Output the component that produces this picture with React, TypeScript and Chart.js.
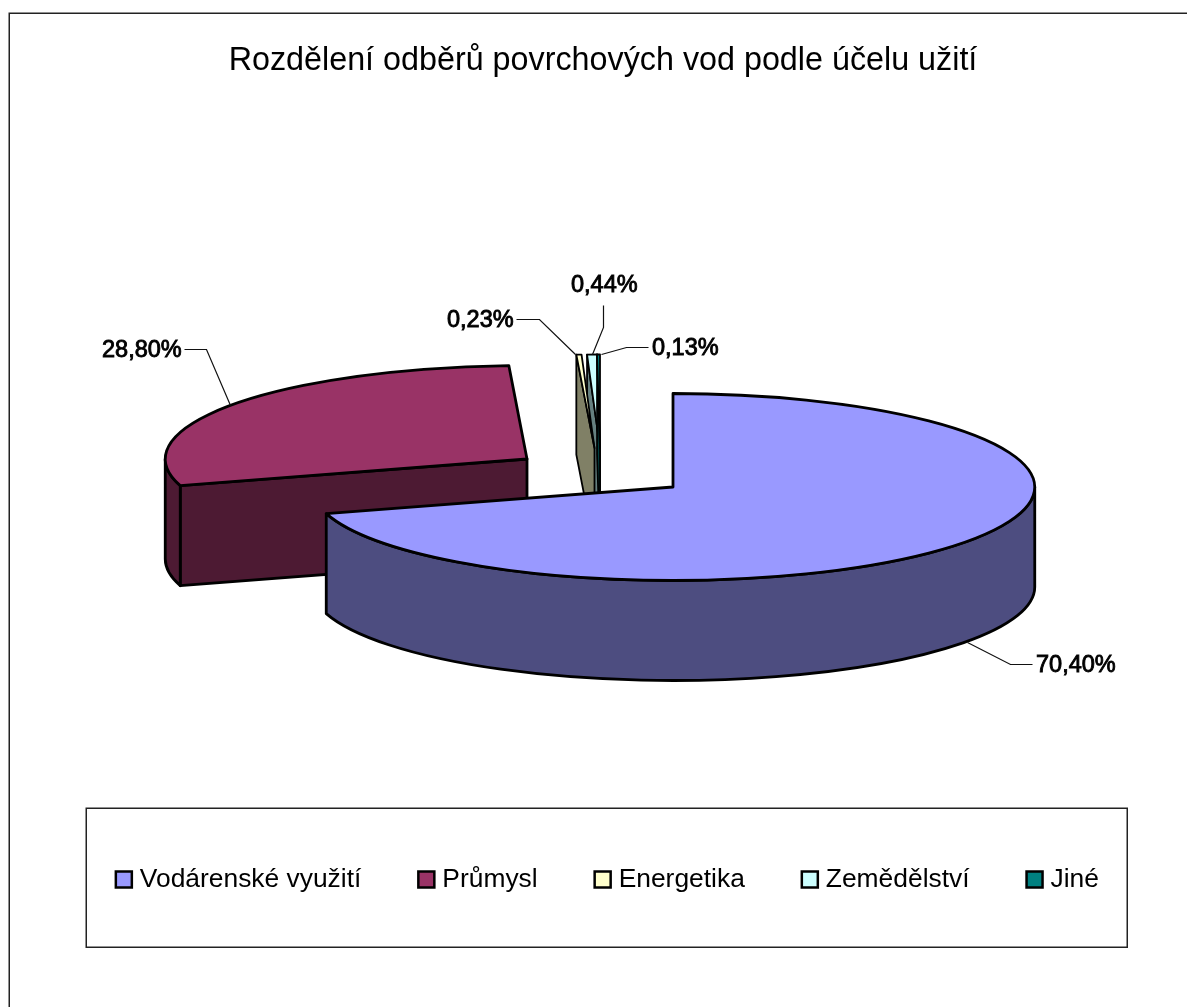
import React, { useEffect, useRef } from "react";
import { Chart, registerables } from "chart.js";

Chart.register(...registerables);

const chartTitle = "Rozdělení odběrů povrchových vod podle účelu užití";
const categories = ["Vodárenské využití", "Průmysl", "Energetika", "Zemědělství", "Jiné"];
const shares = [70.4, 28.8, 0.23, 0.44, 0.13];
const sliceColors = ["#9999FF", "#993366", "#FFFFCC", "#CCFFFF", "#008080"];

// Scene set-up (projection, explosion, label placement), separate from the data
const FONT = "'Liberation Sans', Arial, sans-serif";
const SQUASH = 0.2585;
const DEPTH = 100;
const PIE_BOX = { left: 310, right: 1036, top: 124, bottom: 850 };
const explode = [
  [0, 0],
  [-146, -28],
  [-78.5, -39],
  [-73, -39],
  [-73, -39],
];
const paintOrder = [1, 3, 4, 2, 0];
const strokeWidths = [2.8, 2.8, 1.8, 1.8, 1.8];
const leaders = [
  { text: [1036, 666], line: [[1032, 664], [1010, 664], [967, 642]] },
  { text: [102, 351], line: [[184, 349], [206, 349], [230, 405]] },
  { text: [447, 321], line: [[516, 319], [539, 319], [575, 354]] },
  { text: [571, 286], line: [[603, 305], [603, 327], [592, 354]] },
  { text: [652, 349], line: [[648, 347], [626, 347], [601, 354]] },
];

const shade = (hex: string) => {
  const n = parseInt(hex.slice(1), 16);
  const c = [(n >> 16) & 255, (n >> 8) & 255, n & 255].map((v) => Math.round(v / 2));
  return `rgb(${c[0]},${c[1]},${c[2]})`;
};
const fmt = (v: number) => v.toFixed(2).replace(".", ",") + "%";

const scenePlugin = {
  id: "scene",
  afterLayout(chart: any) {
    const { left, right, top, bottom } = PIE_BOX;
    chart.chartArea = { left, right, top, bottom, width: right - left, height: bottom - top };
    const t = chart.titleBlock;
    if (t) {
      t.left = 0;
      t.right = 1206;
      t.top = 42;
      t.bottom = 81;
      t.width = 1206;
    }
    const l = chart.legend;
    if (l) {
      l.left = 0;
      l.right = 1220;
      l.top = 804.2;
      l.bottom = 950;
      l.width = 1220;
    }
  },
  beforeDraw(chart: any) {
    const ctx = chart.ctx;
    ctx.save();
    ctx.fillStyle = "#fff";
    ctx.fillRect(0, 0, chart.width, chart.height);
    ctx.strokeStyle = "#222";
    ctx.lineWidth = 1.5;
    ctx.strokeRect(9.25, 13.25, 1400, 1200);
    ctx.strokeRect(86.25, 808.25, 1041, 139);
    ctx.restore();
  },
  beforeDatasetsDraw(chart: any) {
    const ctx = chart.ctx;
    const arcs = chart.getDatasetMeta(0).data;
    ctx.save();
    ctx.strokeStyle = "#000";
    ctx.lineJoin = "round";
    for (const i of paintOrder) {
      ctx.lineWidth = strokeWidths[i];
      const p = arcs[i].getProps(["x", "y", "startAngle", "endAngle", "outerRadius"], true);
      const cx = p.x + explode[i][0];
      const cy = p.y + explode[i][1];
      const rx = p.outerRadius;
      const ry = rx * SQUASH;
      const a0 = p.startAngle;
      const a1 = p.endAngle;
      const px = (a: number) => cx + rx * Math.cos(a);
      const py = (a: number) => cy + ry * Math.sin(a);
      const color = sliceColors[i];
      const side = shade(color);
      const paint = (fill: string) => {
        ctx.closePath();
        ctx.fillStyle = fill;
        ctx.fill();
        ctx.stroke();
      };
      // cut face on the start side, when it turns towards the viewer
      if (Math.abs(a0 + Math.PI / 2) > 1e-6) {
        ctx.beginPath();
        ctx.moveTo(cx, cy);
        ctx.lineTo(px(a0), py(a0));
        ctx.lineTo(px(a0), py(a0) + DEPTH);
        ctx.lineTo(cx, cy + DEPTH);
        paint(side);
      }
      // outer wall, only the part that faces the viewer
      const from = Math.max(a0, 0);
      const to = Math.min(a1, Math.PI);
      if (to > from) {
        ctx.beginPath();
        ctx.ellipse(cx, cy, rx, ry, 0, from, to);
        ctx.ellipse(cx, cy + DEPTH, rx, ry, 0, to, from, true);
        paint(side);
      }
      // top face
      ctx.beginPath();
      ctx.moveTo(cx, cy);
      ctx.ellipse(cx, cy, rx, ry, 0, a0, a1);
      paint(color);
    }
    ctx.restore();
    return false;
  },
  afterDraw(chart: any) {
    const ctx = chart.ctx;
    ctx.save();
    shares.forEach((v, i) => {
      const { text, line } = leaders[i];
      ctx.beginPath();
      line.forEach(([x, y], k) => (k ? ctx.lineTo(x + 0.5, y + 0.5) : ctx.moveTo(x + 0.5, y + 0.5)));
      ctx.strokeStyle = "#111";
      ctx.lineWidth = 1.2;
      ctx.stroke();
      ctx.font = `23.5px ${FONT}`;
      ctx.textAlign = "left";
      ctx.textBaseline = "middle";
      ctx.fillStyle = "#000";
      ctx.strokeStyle = "#000";
      ctx.lineWidth = 0.9;
      ctx.fillText(fmt(v), text[0], text[1]);
      ctx.strokeText(fmt(v), text[0], text[1]);
    });
    ctx.restore();
  },
};

export default function App() {
  const ref = useRef<HTMLCanvasElement>(null);
  useEffect(() => {
    const chart = new Chart(ref.current as HTMLCanvasElement, {
      type: "pie",
      data: {
        labels: categories,
        datasets: [
          {
            data: shares,
            backgroundColor: sliceColors,
            borderColor: "#000",
            borderWidth: 2.5,
          },
        ],
      },
      options: {
        responsive: false,
        animation: false,
        devicePixelRatio: 1,
        plugins: {
          tooltip: { enabled: false },
          title: {
            display: true,
            text: chartTitle,
            color: "#000",
            padding: 0,
            font: { family: FONT, size: 32.3, weight: "normal", lineHeight: 1.2 },
          },
          legend: {
            display: true,
            position: "bottom",
            labels: {
              usePointStyle: true,
              pointStyle: "rect",
              boxWidth: 5.6,
              boxHeight: 16,
              padding: 62.2,
              color: "#000",
              font: { family: FONT, size: 26.4 },
            },
          },
        },
      } as any,
      plugins: [scenePlugin as any],
    });
    return () => chart.destroy();
  }, []);
  return (
    <canvas
      ref={ref}
      width={1187}
      height={1007}
      style={{ position: "absolute", left: 0, top: 0, display: "block" }}
    />
  );
}
